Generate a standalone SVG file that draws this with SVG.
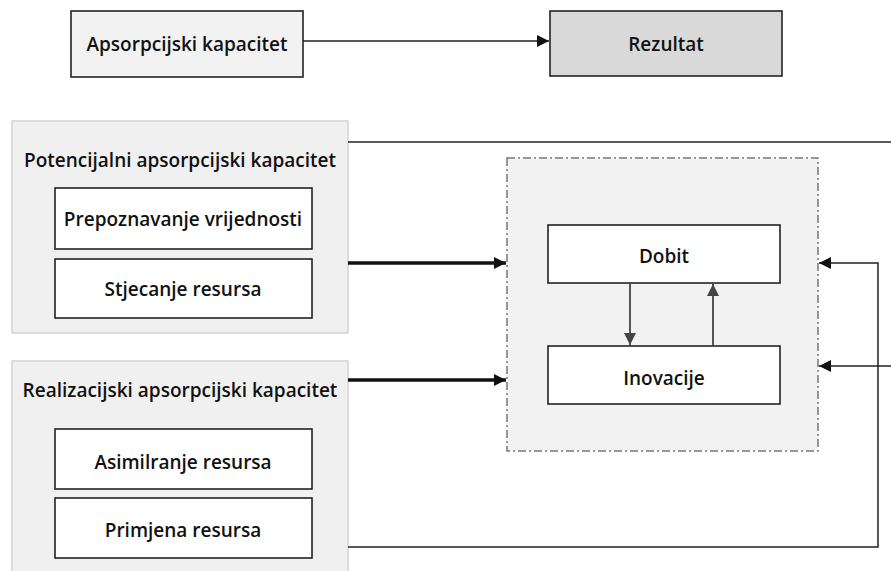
<svg xmlns="http://www.w3.org/2000/svg" width="891" height="571" viewBox="0 0 891 571">
<style>
text{font-family:"Open Sans","Noto Sans","DejaVu Sans",sans-serif;font-size:19px;font-weight:600;fill:#111;text-anchor:middle;dominant-baseline:central}
.box{fill:#fff;stroke:#222;stroke-width:1.6}
.panel{fill:#f0f0f0;stroke:#d4d4d4;stroke-width:1.5}
.thin{fill:none;stroke:#222;stroke-width:1.5}
.thick{fill:none;stroke:#111;stroke-width:3.5}
.gray{fill:none;stroke:#444;stroke-width:1.8}
</style>
<defs>
<marker id="a" viewBox="0 0 10 10" refX="10" refY="5" markerWidth="14" markerHeight="12" markerUnits="userSpaceOnUse" orient="auto"><path d="M0,0L10,5L0,10z" fill="#111"/></marker>
<marker id="g" viewBox="0 0 10 10" refX="10" refY="5" markerWidth="14" markerHeight="12" markerUnits="userSpaceOnUse" orient="auto"><path d="M0,0L10,5L0,10z" fill="#444"/></marker>
</defs>
<g id="apsorpcijski">
<rect x="71" y="11" width="232" height="66" fill="#f2f2f2" stroke="#222" stroke-width="1.6"/>
<text x="187" y="44">Apsorpcijski kapacitet</text>
</g>
<g id="rezultat">
<rect x="550" y="11" width="232" height="65" fill="#d9d9d9" stroke="#222" stroke-width="1.6"/>
<text x="666" y="44">Rezultat</text>
</g>
<g id="potencijalni">
<rect class="panel" x="12" y="121" width="336" height="212"/>
<text x="180" y="160">Potencijalni apsorpcijski kapacitet</text>
</g>
<g id="prepoznavanje">
<rect class="box" x="55" y="188" width="257" height="61"/>
<text x="183" y="219">Prepoznavanje vrijednosti</text>
</g>
<g id="stjecanje">
<rect class="box" x="55" y="259" width="257" height="59"/>
<text x="183" y="289">Stjecanje resursa</text>
</g>
<g id="realizacijski">
<rect class="panel" x="12" y="361" width="336" height="215"/>
<text x="180" y="390">Realizacijski apsorpcijski kapacitet</text>
</g>
<g id="asimilranje">
<rect class="box" x="55" y="429" width="257" height="60"/>
<text x="183" y="462">Asimilranje resursa</text>
</g>
<g id="primjena">
<rect class="box" x="55" y="498" width="257" height="60"/>
<text x="183" y="530">Primjena resursa</text>
</g>
<g id="centar">
<rect x="507" y="158" width="311" height="293" fill="#f2f2f2" stroke="#777" stroke-width="1.5" stroke-dasharray="8,3,2,3"/>
</g>
<g id="dobit">
<rect class="box" x="548" y="225" width="232" height="58"/>
<text x="664" y="256">Dobit</text>
</g>
<g id="inovacije">
<rect class="box" x="548" y="346" width="232" height="58"/>
<text x="664" y="378">Inovacije</text>
</g>
<g id="connectors">
<line class="thin" x1="303" y1="41" x2="549" y2="41" marker-end="url(#a)"/>
<line class="thin" x1="348" y1="142" x2="891" y2="142" stroke="#444" stroke-width="2"/>
<line class="thick" x1="348" y1="263" x2="506" y2="263" marker-end="url(#a)"/>
<line class="thick" x1="348" y1="380" x2="506" y2="380" marker-end="url(#a)"/>
<line class="gray" x1="630" y1="283" x2="630" y2="345" marker-end="url(#g)"/>
<line class="gray" x1="713" y1="346" x2="713" y2="284" marker-end="url(#g)"/>
<polyline class="thin" points="348,547 878,547 878,263 819,263" marker-end="url(#a)"/>
<line class="thin" x1="891" y1="366" x2="819" y2="366" marker-end="url(#a)"/>
</g>
</svg>
